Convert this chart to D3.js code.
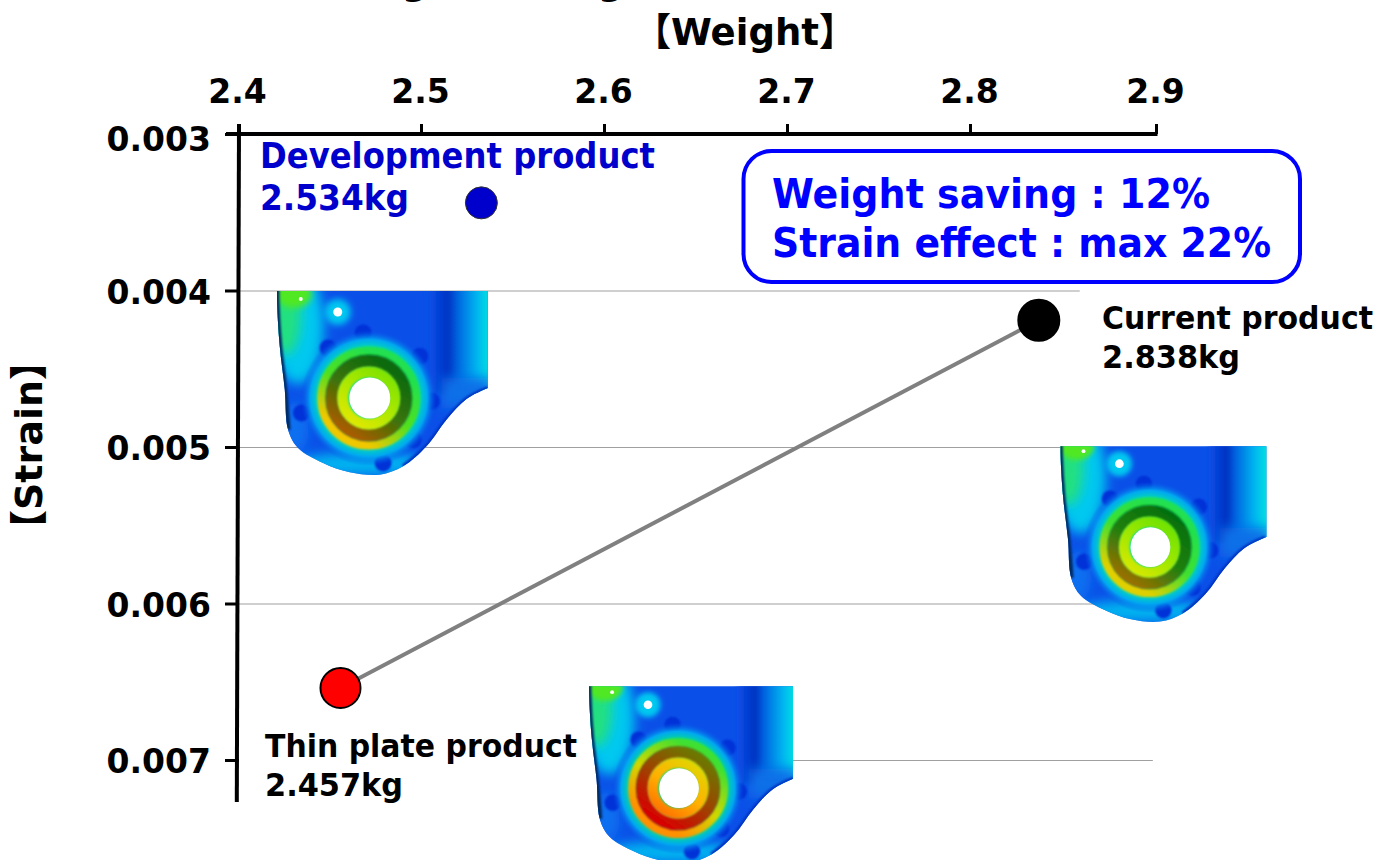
<!DOCTYPE html>
<html><head><meta charset="utf-8">
<script src="https://cdn.jsdelivr.net/npm/d3@7/dist/d3.min.js"></script>
<style>
html,body{margin:0;padding:0;background:#fff;overflow:hidden}
text{font-family:"DejaVu Sans","Noto Sans CJK JP",sans-serif;font-weight:700}
</style></head><body>
<svg id="c" width="1390" height="860"></svg>
<script>
// ---- data ----
const weightTicks = [2.4, 2.5, 2.6, 2.7, 2.8, 2.9];
const strainTicks = [0.003, 0.004, 0.005, 0.006, 0.007];
const productNames = ["Development product", "Current product", "Thin plate product"];
const productLabels = ["2.534kg", "2.838kg", "2.457kg"];
const productWeights = [2.533, 2.837, 2.456];
const productStrains = [0.00344, 0.00419, 0.00654];
const productColors = ["#0000cc", "#000000", "#ff0000"];
const plateWeights = [2.472, 2.897, 2.641];
const plateStrains = [0.004687, 0.00564, 0.00718];
const calloutLines = ["Weight saving : 12%", "Strain effect : max 22%"];

const svg = d3.select("#c");
const defs = svg.append("defs");
const x = d3.scaleLinear().domain([2.4, 2.8, 2.9]).range([238, 970, 1156]);
const y = d3.scaleLinear().domain([0.003, 0.007]).range([134, 760]);

function fitText(t, px, py, w, size, fill, anchor) {
  return svg.append("text").attr("x", px).attr("y", py).attr("font-size", size)
    .attr("fill", fill).attr("textLength", w).attr("lengthAdjust", "spacingAndGlyphs")
    .attr("text-anchor", anchor || "start").text(t);
}

// filters
[["b1",1.2],["b3",3],["b6",6],["b10",10]].forEach(([id,s]) => {
  defs.append("filter").attr("id", id).attr("x","-50%").attr("y","-50%").attr("width","200%").attr("height","200%")
    .append("feGaussianBlur").attr("stdDeviation", s);
});

// gridlines
const gridSpans = [[0.004,2.4,2.859],[0.005,2.4,2.851],[0.006,2.4,2.867],[0.007,2.7033,2.8983]];
svg.append("g").selectAll("line").data(gridSpans).join("line")
  .attr("x1", d => x(d[1])).attr("x2", d => x(d[2]))
  .attr("y1", d => y(d[0])+0.5).attr("y2", d => y(d[0])+0.5)
  .attr("stroke", "#a0a0a0").attr("stroke-width", 1.2);

// stress plots
const outline = [[52,20],[52,70],[60,200],[75,330],[85,450],[115,505],[190,550],[270,578],[360,585],[430,560],[500,500],[560,420],[620,358],[685,325],[700,320],[700,20]]
  .map(p => [(p[0]-330)/3, (p[1]-355)/3]);
const bolts = [[310,160],[205,205],[480,230],[515,365],[125,400],[460,480],[370,550]]
  .map(p => [(p[0]-330)/3, (p[1]-355)/3]);
const ringPalettes = [
  { inner:["#70e000","#b0e800","#f0e800"], mid:["#086a10","#3a7408","#a85c00"], outer:["#20e050","#50e020","#f0c800"], halo:["#00e0b0","#00a8f0"] },
  { inner:["#60e000","#a0e800","#e8e800"], mid:["#047010","#208010","#987000"], outer:["#20e050","#40e030","#e0d000"], halo:["#00e0b0","#00a8f0"] },
  { inner:["#d8e000","#ffb000","#ff6000"], mid:["#6a7a00","#a04000","#d80000"], outer:["#40e030","#d0d800","#ff9000"], halo:["#00e090","#00a8f0"] }
];
const plateScales = [1, 0.97, 0.97];
const plateTops = [-107, -101, -102];
const plateRights = [118, 116, 114];

const plateG = svg.append("g");
const outlineLine = d3.line().curve(d3.curveCatmullRom.alpha(0.5));
plateWeights.forEach((w, i) => {
  const s = plateScales[i], pal = ringPalettes[i];
  const g = plateG.append("g").attr("transform", `translate(${x(w)},${y(plateStrains[i])})`);
  const cropId = "crop"+i, cid = "clip"+i;
  defs.append("clipPath").attr("id", cropId).append("rect")
    .attr("x",-110).attr("y",plateTops[i]).attr("width",110+plateRights[i]).attr("height",220);
  defs.append("clipPath").attr("id", cid).append("path").attr("d", outlineLine(outline) + "Z");
  const crop = g.append("g").attr("clip-path", `url(#${cropId})`);
  const body = crop.append("g").attr("transform",`scale(${s})`).attr("clip-path", `url(#${cid})`);
  body.append("rect").attr("x",-110).attr("y",-120).attr("width",240).attr("height",220).attr("fill","#0a50e8");
  // bottom lighter edge
  body.append("ellipse").attr("cx",-8).attr("cy",66).attr("rx",72).attr("ry",11).attr("fill","#00b4f0").attr("filter","url(#b6)");
  body.append("ellipse").attr("cx",-75).attr("cy",30).attr("rx",14).attr("ry",26).attr("fill","#0a70f0").attr("filter","url(#b6)");
  // left green / cyan
  body.append("ellipse").attr("cx",-72).attr("cy",-72).attr("rx",26).attr("ry",58).attr("fill","#00c8f0").attr("filter","url(#b6)");
  body.append("ellipse").attr("cx",-84).attr("cy",-85).attr("rx",15).attr("ry",42).attr("fill","#20e080").attr("filter","url(#b6)");
  body.append("ellipse").attr("cx",-76).attr("cy",-104).attr("rx",18).attr("ry",14).attr("fill","#50e820").attr("filter","url(#b3)");
  // right strip
  const rg = defs.append("linearGradient").attr("id","rs"+i).attr("x1",0).attr("x2",1).attr("y1",0).attr("y2",0);
  [[0,"#0a50e8"],[0.3,"#0030c0"],[0.42,"#0060e0"],[0.75,"#00b8f0"],[1,"#00f0d8"]].forEach(d => rg.append("stop").attr("offset",d[0]).attr("stop-color",d[1]));
  body.append("rect").attr("x",60).attr("y",-125).attr("width",64).attr("height",120).attr("fill",`url(#rs${i})`).attr("filter","url(#b3)");
  body.append("rect").attr("x",72).attr("y",-20).attr("width",50).attr("height",30).attr("fill","#0a70e8").attr("filter","url(#b6)");
  // bolts
  body.selectAll(".bolt").data(bolts).join("circle").attr("cx",d=>d[0]).attr("cy",d=>d[1]).attr("r",8.5)
    .attr("fill","#0030d8").attr("filter","url(#b1)");
  // outer halo
  const hg = defs.append("radialGradient").attr("id","halo"+i).attr("gradientUnits","userSpaceOnUse").attr("cx",-1).attr("cy",0).attr("r",68);
  [[0.72,pal.halo[0]],[0.86,pal.halo[1]],[1,"#0a50e8"]].forEach((d,k)=>{
    hg.append("stop").attr("offset",d[0]).attr("stop-color",d[1]).attr("stop-opacity",k===2?0:1);
  });
  body.append("circle").attr("cx",-1).attr("cy",0).attr("r",68).attr("fill",`url(#halo${i})`);
  // rings
  [["outer",47,9],["mid",37,13],["inner",26,11]].forEach(([k,r,sw]) => {
    const id = `r${k}${i}`;
    const lg = defs.append("linearGradient").attr("id",id).attr("gradientUnits","userSpaceOnUse")
      .attr("x1",35).attr("y1",-45).attr("x2",-25).attr("y2",45);
    pal[k].forEach((c,n)=>lg.append("stop").attr("offset",[0.15,0.55,0.9][n]).attr("stop-color",c));
    body.append("circle").attr("cx",-1).attr("cy",0).attr("r",r).attr("fill","none")
      .attr("stroke",`url(#${id})`).attr("stroke-width",sw).attr("filter","url(#b1)");
  });
  body.append("circle").attr("cx",-32).attr("cy",-86).attr("r",13).attr("fill","#00c8f0").attr("filter","url(#b3)");
  // dark edges
  body.append("path").attr("d", outlineLine(outline.slice(0,5)))
    .attr("fill","none").attr("stroke", "#002a60").attr("stroke-width",5).attr("filter","url(#b1)");
  body.append("path").attr("d", outlineLine(outline.slice(9,14)))
    .attr("fill","none").attr("stroke", "#0030c0").attr("stroke-width",4).attr("filter","url(#b1)");
  const holes = crop.append("g").attr("transform",`scale(${s})`);
  holes.append("circle").attr("cx",-32).attr("cy",-86).attr("r",4.5).attr("fill","#fff");
  holes.append("circle").attr("cx",-69).attr("cy",-99).attr("r",2).attr("fill","#fff");
  holes.append("circle").attr("cx",0).attr("cy",0).attr("r",20.5).attr("fill","#fff");
});

// axes
const axTop = svg.append("g").attr("transform",`translate(0,${y(0.003)})`)
  .call(d3.axisTop(x).tickValues(weightTicks).tickFormat(d3.format(".1f")).tickSize(10).tickPadding(21));
axTop.select(".domain").remove();
axTop.selectAll("line").attr("stroke","#000").attr("stroke-width",3);
axTop.selectAll("text").attr("font-size",33).attr("fill","#000").attr("dx",-1);
const axLeft = svg.append("g").attr("transform",`translate(239,0)`)
  .call(d3.axisLeft(y).tickValues(strainTicks).tickFormat(d3.format(".3f")).tickSize(14).tickPadding(14));
axLeft.select(".domain").remove();
axLeft.selectAll("line").attr("stroke","#000").attr("stroke-width",3);
axLeft.selectAll("text").attr("font-size",33).attr("fill","#000").attr("dy",d => d===0.003 ? "0.5em" : "0.39em");
svg.append("line").attr("x1",x(2.4)-12).attr("x2",x(2.9)+1.5).attr("y1",y(0.003)).attr("y2",y(0.003)).attr("stroke","#000").attr("stroke-width",4);
svg.append("line").attr("x1",239).attr("x2",236.8).attr("y1",124).attr("y2",802).attr("stroke","#000").attr("stroke-width",4);

// connecting line
svg.append("line").attr("x1",x(productWeights[1])).attr("y1",y(productStrains[1]))
  .attr("x2",x(productWeights[2])).attr("y2",y(productStrains[2]))
  .attr("stroke","#808080").attr("stroke-width",4);

// points
const radii = [16, 20.5, 20];
svg.append("g").selectAll("circle").data(productWeights).join("circle")
  .attr("cx",(d)=>x(d)).attr("cy",(d,i)=>y(productStrains[i])).attr("r",(d,i)=>radii[i])
  .attr("fill",(d,i)=>productColors[i]).attr("stroke",(d,i)=>i===0?"#333":"#000").attr("stroke-width",(d,i)=>i===0?1:2);

// titles
fitText("【Weight】", 745, 45, 222, 38, "#000", "middle");
svg.append("text").attr("x",415).attr("y",-5).attr("font-size",36).attr("text-anchor","middle").text("g");
svg.append("text").attr("x",611).attr("y",-5).attr("font-size",36).attr("text-anchor","middle").text("g");
svg.append("text").attr("transform","translate(42,445) rotate(-90)").attr("font-size",38)
  .attr("text-anchor","middle").attr("textLength",206).attr("lengthAdjust","spacingAndGlyphs").text("【Strain】");

// product labels
fitText(productNames[0], 260, 168, 395, 35, "#0000cc");
fitText(productLabels[0], 260, 210, 149, 35, "#0000cc");
fitText(productNames[1], 1102, 329, 271, 32, "#000");
fitText(productLabels[1], 1102, 368, 138, 32, "#000");
fitText(productNames[2], 265, 757, 312, 32, "#000");
fitText(productLabels[2], 265, 796, 138, 32, "#000");

// callout
svg.append("rect").attr("x",743.5).attr("y",151).attr("width",556.5).attr("height",131).attr("rx",28)
  .attr("fill","#fff").attr("stroke","#0000ff").attr("stroke-width",4);
fitText(calloutLines[0], 772, 208, 438, 41, "#0000ff");
fitText(calloutLines[1], 772, 257, 499, 41, "#0000ff");
</script>
</body></html>
